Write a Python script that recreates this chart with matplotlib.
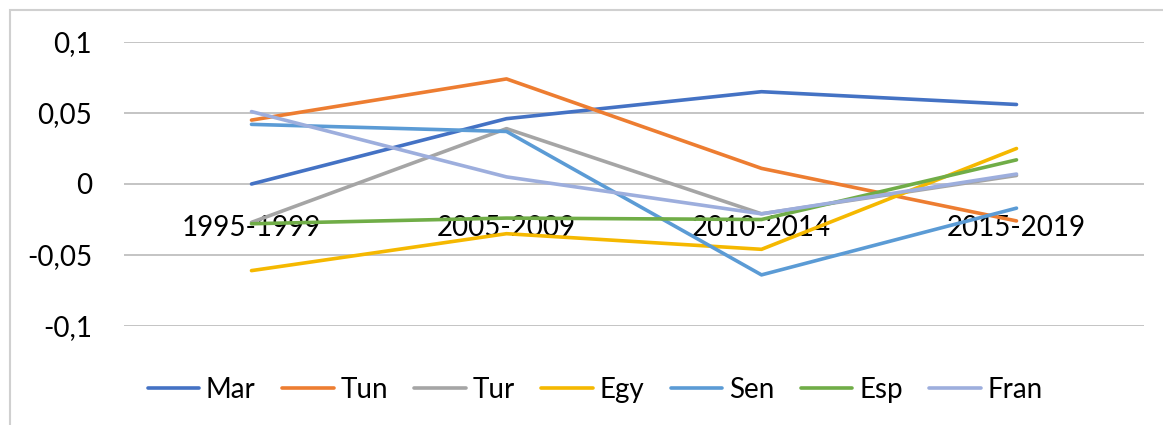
import numpy as np
import matplotlib
matplotlib.use("Agg")
import matplotlib.pyplot as plt
from matplotlib.patches import Rectangle

periods = ["1995-1999", "2005-2009", "2010-2014", "2015-2019"]

mar = [0.000, 0.046, 0.065, 0.056]
tun = [0.045, 0.074, 0.011, -0.026]
tur = [-0.027, 0.039, -0.021, 0.006]
egy = [-0.061, -0.035, -0.046, 0.025]
sen = [0.042, 0.037, -0.064, -0.017]
esp = [-0.028, -0.024, -0.025, 0.017]
fran = [0.051, 0.005, -0.021, 0.007]

names = ["Mar", "Tun", "Tur", "Egy", "Sen", "Esp", "Fran"]
series = [mar, tun, tur, egy, sen, esp, fran]
colors = ["#4472C4", "#ED7D31", "#A5A5A5", "#F5B800", "#5B9BD5", "#70AD47", "#9DAEDD"]
yticks = [-0.1, -0.05, 0, 0.05, 0.1]
ylabels = ["-0,1", "-0,05", "0", "0,05", "0,1"]

plt.rcParams['font.family'] = ['Lato', 'DejaVu Sans']

W, H = 1163, 425
fig = plt.figure(figsize=(W/100, H/100), dpi=100)

# chart border (only left and top visible in the crop)
fig.patches.append(Rectangle((10/W, -0.1), 1.2, 1 - 10/H + 0.1, transform=fig.transFigure,
                             fill=False, edgecolor="#D0D0D0", linewidth=1.5))

ax = fig.add_axes([124/W, 1 - 326/H, (1144-124)/W, (326-42)/H])

x = np.arange(len(periods))
for s, n, c in zip(series, names, colors):
    ax.plot(x, s, color=c, lw=2.6, label=n, solid_capstyle='round', zorder=2)

# gridlines under the lines
for yv in yticks:
    ax.axhline(yv, color="#C4C4C4", lw=1.4, zorder=0.5)

ax.set_xlim(-0.5, 3.5)
ax.set_ylim(-0.1, 0.1)
ax.set_yticks(yticks)
ax.set_yticklabels(ylabels)

for sp in ['top', 'right', 'left']:
    ax.spines[sp].set_visible(False)
ax.spines['bottom'].set_position(('data', 0))
ax.spines['bottom'].set_visible(False)

ax.set_xticks(x)
ax.set_xticklabels(periods)
ax.tick_params(axis='x', length=0, pad=22, labelsize=20)
ax.tick_params(axis='y', length=0, pad=23, labelsize=20)

ax.legend(loc='center', bbox_to_anchor=(0.462, -0.225), ncol=7, frameon=False,
          fontsize=20, handlelength=1.85, handletextpad=0.25, columnspacing=0.95)

fig.savefig("out.png", dpi=100)
